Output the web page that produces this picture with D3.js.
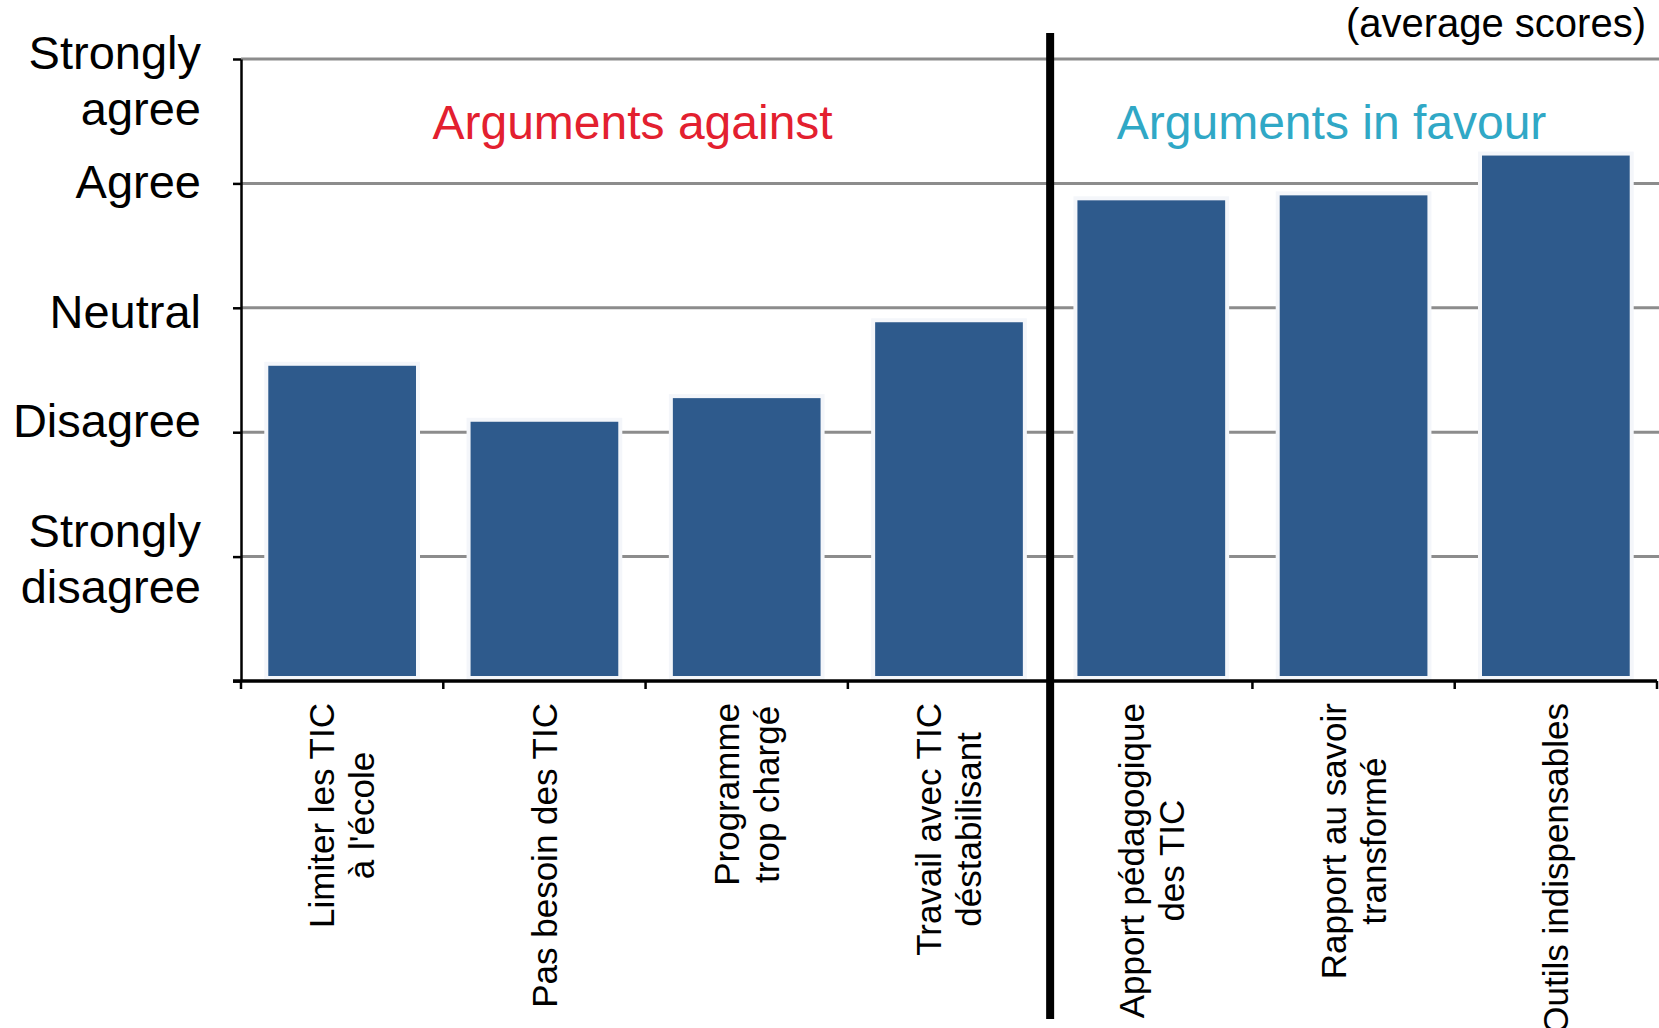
<!DOCTYPE html>
<html>
<head>
<meta charset="utf-8">
<script src="https://cdn.jsdelivr.net/npm/d3@7/dist/d3.min.js"></script>
<style>
  html, body { margin: 0; padding: 0; background: #fff; }
  svg { display: block; font-family: "Liberation Sans", Arial, sans-serif; }
</style>
</head>
<body>
<svg id="chart" width="1659" height="1028"></svg>
<script>
// Survey items (two-line labels split with "\n")
const categories = [
  "Limiter les TIC\nà l'école",
  "Pas besoin des TIC",
  "Programme\ntrop chargé",
  "Travail avec TIC\ndéstabilisant",
  "Apport pédagogique\ndes TIC",
  "Rapport au savoir\ntransformé",
  "Outils indispensables"
];
// Average agreement scores (1 = strongly disagree ... 5 = strongly agree)
const scores = [2.55, 2.10, 2.29, 2.90, 3.88, 3.92, 4.24];
// Which group each item belongs to
const groups = ["against", "against", "against", "against", "favour", "favour", "favour"];
const groupTitles = ["Arguments against", "Arguments in favour"];
// Likert scale tick labels
const tickValues = [1, 2, 3, 4, 5];
const tickLabels = [
  ["Strongly", "disagree"],
  ["Disagree"],
  ["Neutral"],
  ["Agree"],
  ["Strongly", "agree"]
];
const unitNote = "(average scores)";

const svg = d3.select("#chart");
const W = 1659;

const plotLeft = 241, plotRight = 1657, plotTop = 59, plotBottom = 681;

const y = d3.scaleLinear().domain([0, 5]).range([plotBottom, plotTop]);
const x = d3.scaleBand()
  .domain(categories)
  .range([plotLeft, plotRight])
  .paddingInner(0.25)
  .paddingOuter(0.125);

// Horizontal gridlines
svg.append("g").selectAll("line")
  .data(tickValues)
  .join("line")
  .attr("x1", plotLeft).attr("x2", W)
  .attr("y1", d => y(d)).attr("y2", d => y(d))
  .attr("stroke", "#8c8c8c")
  .attr("stroke-width", 3);

// Bars (light outline keeps a small gap to gridlines and baseline)
svg.append("g").selectAll("rect")
  .data(scores)
  .join("rect")
  .attr("x", (d, i) => x(categories[i]))
  .attr("width", x.bandwidth())
  .attr("y", d => y(d))
  .attr("height", d => y(0) - y(d) - 3)
  .attr("fill", "#2e5a8c")
  .attr("stroke", "#f4f6fa")
  .attr("stroke-width", 4);

// Y axis (line + outward ticks, labels drawn separately)
const yAxis = d3.axisLeft(y)
  .tickValues([0, ...tickValues])
  .tickSize(8)
  .tickFormat("")
  .tickSizeOuter(0);
const yg = svg.append("g").attr("transform", `translate(${plotLeft},0)`).call(yAxis);
yg.select(".domain").attr("stroke", "#000").attr("stroke-width", 2.5);
yg.selectAll(".tick line").attr("stroke", "#000").attr("stroke-width", 2.5);

// X axis baseline with ticks at band boundaries
const step = x.step();
const boundaries = d3.range(categories.length + 1).map(i => plotLeft + i * step);
svg.append("line")
  .attr("x1", plotLeft - 8).attr("x2", plotRight)
  .attr("y1", plotBottom).attr("y2", plotBottom)
  .attr("stroke", "#000").attr("stroke-width", 3.5);
svg.append("g").selectAll("line")
  .data(boundaries)
  .join("line")
  .attr("x1", d => d).attr("x2", d => d)
  .attr("y1", plotBottom).attr("y2", plotBottom + 8)
  .attr("stroke", "#000").attr("stroke-width", 2.5);

// Y labels (hand-placed text blocks beside each tick)
const labelShift = [2, -12, 4, -2, 22];
const lineH = 56;
tickLabels.forEach((lines, k) => {
  const cy = y(tickValues[k]) + labelShift[k];
  const t = svg.append("text")
    .attr("text-anchor", "end")
    .attr("font-size", 47)
    .attr("fill", "#000");
  lines.forEach((ln, j) => {
    t.append("tspan")
      .attr("x", 201)
      .attr("y", cy + (j - (lines.length - 1) / 2) * lineH)
      .attr("dy", "0.35em")
      .text(ln);
  });
});

// Rotated category labels, lines centred on each other, block hanging from the top
const labelTop = 703;
categories.forEach(c => {
  const lines = c.split("\n");
  const g = svg.append("g")
    .attr("transform", `translate(${x(c) + x.bandwidth() / 2},${labelTop}) rotate(-90)`);
  const texts = lines.map((ln, j) => g.append("text")
    .attr("font-size", 35)
    .attr("text-anchor", "middle")
    .attr("y", (j - (lines.length - 1) / 2) * 40)
    .attr("dy", "0.35em")
    .attr("fill", "#000")
    .text(ln));
  const maxLen = d3.max(texts, t => t.node().getComputedTextLength());
  texts.forEach(t => t.attr("x", -maxLen / 2));
});

// Divider between the two groups
const splitIdx = groups.indexOf("favour");
const divX = plotLeft + splitIdx * step;
svg.append("line")
  .attr("x1", divX).attr("x2", divX)
  .attr("y1", 33).attr("y2", 1019)
  .attr("stroke", "#000").attr("stroke-width", 8);

// Group titles
const againstCenter = (plotLeft + divX) / 2 - 13;
const favourCenter = (divX + plotRight) / 2;
svg.append("text")
  .attr("x", againstCenter).attr("y", 139)
  .attr("text-anchor", "middle").attr("font-size", 48)
  .attr("fill", "#e3202f")
  .text(groupTitles[0]);
svg.append("text")
  .attr("x", favourCenter - 22).attr("y", 139)
  .attr("text-anchor", "middle").attr("font-size", 48)
  .attr("fill", "#30a8c6")
  .text(groupTitles[1]);

// Unit note
svg.append("text")
  .attr("x", 1646).attr("y", 37)
  .attr("text-anchor", "end").attr("font-size", 40)
  .attr("fill", "#000")
  .text(unitNote);
</script>
</body>
</html>
